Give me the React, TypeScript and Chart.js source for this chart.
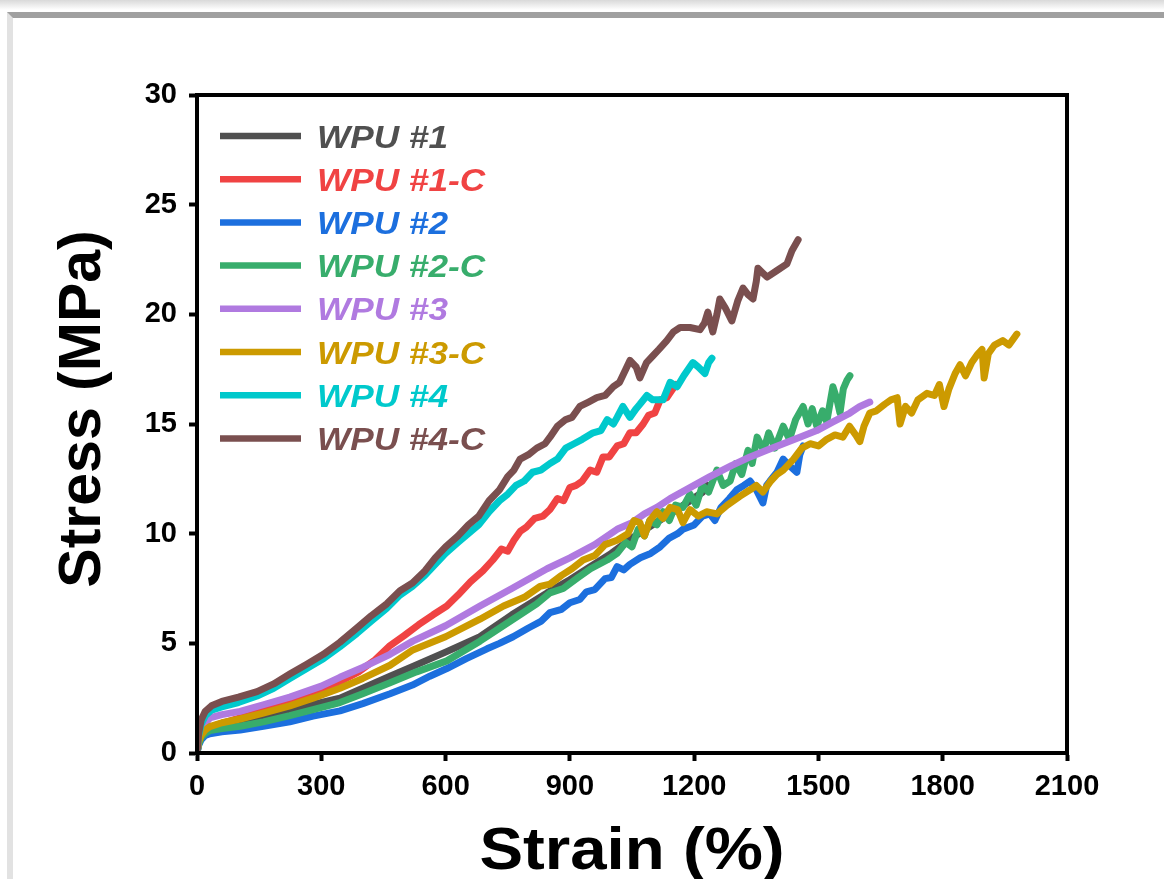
import React, { useEffect, useRef } from "react";
import { Chart, registerables } from "chart.js";

Chart.register(...registerables);

// Strain (%) , Stress (MPa) pairs
const wpu1: [number, number][] = [
  [0, 0], [4, 0.45], [10, 0.75], [20, 0.95], [31, 1.08], [60, 1.2], [104, 1.35], [160, 1.6],
  [224, 1.95], [280, 2.22], [345, 2.5], [400, 2.95], [466, 3.5], [521, 3.95], [600, 4.6],
  [683, 5.3], [760, 6.3], [845, 7.3], [900, 7.9], [950, 8.5], [1000, 9.1], [1050, 9.8],
  [1100, 10.4], [1150, 11.0], [1190, 11.5], [1221, 11.9], [1232, 12.2],
];

const wpu1c: [number, number][] = [
  [0, 0], [4, 0.5], [10, 0.85], [20, 1.05], [35, 1.2], [60, 1.35], [104, 1.6], [150, 1.85],
  [190, 2.1], [224, 2.35], [265, 2.65], [305, 2.95], [345, 3.25], [390, 3.7], [430, 4.25],
  [466, 4.9], [500, 5.35], [535, 5.85], [570, 6.3], [603, 6.7], [630, 7.2], [660, 7.8],
  [690, 8.3], [714, 8.8], [735, 9.3], [750, 9.2], [765, 9.7], [780, 10.1], [795, 10.3],
  [815, 10.7], [835, 10.8], [852, 11.1], [870, 11.6], [885, 11.5], [900, 12.1], [915, 12.2],
  [930, 12.4], [949, 12.9], [965, 12.8], [980, 13.5], [995, 13.5], [1014, 14.0], [1030, 14.1],
  [1045, 14.6], [1060, 14.6], [1077, 15.0], [1090, 15.4], [1105, 15.5], [1118, 16.1],
  [1134, 16.2], [1145, 16.5], [1156, 16.8],
];

const wpu2: [number, number][] = [
  [0, 0], [4, 0.35], [10, 0.6], [20, 0.8], [31, 0.88], [60, 0.97], [104, 1.05], [160, 1.22],
  [224, 1.42], [280, 1.68], [345, 1.92], [400, 2.25], [466, 2.7], [520, 3.1], [562, 3.5],
  [603, 3.85], [650, 4.3], [700, 4.75], [730, 5.0], [763, 5.3], [800, 5.7], [830, 6.0],
  [852, 6.4], [880, 6.55], [900, 6.85], [924, 7.0], [940, 7.35], [960, 7.45], [985, 7.95],
  [1000, 8.0], [1014, 8.5], [1030, 8.35], [1045, 8.6], [1070, 8.9], [1095, 9.1], [1118, 9.4],
  [1140, 9.8], [1160, 10.0], [1173, 10.2], [1200, 10.4], [1220, 10.8], [1238, 10.9],
  [1250, 10.6], [1265, 11.2], [1285, 11.6], [1303, 12.0], [1320, 12.2], [1335, 12.4],
  [1350, 12.0], [1366, 11.4], [1375, 12.2], [1383, 12.4], [1400, 12.8], [1415, 13.4],
  [1430, 13.1], [1448, 12.8], [1455, 13.6], [1463, 14.0],
];

const wpu2c: [number, number][] = [
  [0, 0], [4, 0.4], [10, 0.7], [20, 0.9], [31, 1.02], [60, 1.12], [104, 1.22], [160, 1.42],
  [224, 1.7], [280, 1.98], [345, 2.3], [400, 2.7], [466, 3.2], [530, 3.7], [603, 4.2],
  [683, 5.1], [763, 6.1], [820, 6.8], [852, 7.3], [884, 7.5], [920, 8.0], [950, 8.4],
  [990, 8.8], [1014, 9.1], [1035, 9.6], [1050, 9.4], [1065, 10.2], [1080, 9.9], [1093, 10.6],
  [1110, 10.4], [1125, 11.0], [1140, 10.6], [1155, 11.3], [1173, 11.2], [1190, 11.8],
  [1205, 11.3], [1220, 12.2], [1235, 11.9], [1255, 12.9], [1270, 12.2], [1287, 12.4],
  [1300, 13.2], [1315, 12.7], [1330, 13.8], [1340, 13.2], [1352, 14.4], [1368, 13.8],
  [1380, 14.6], [1395, 13.9], [1415, 14.9], [1430, 14.3], [1445, 15.2], [1463, 15.8],
  [1475, 15.0], [1485, 15.7], [1496, 14.9], [1510, 15.6], [1520, 15.1], [1535, 16.7],
  [1545, 16.1], [1552, 15.5], [1560, 16.6], [1569, 17.0], [1576, 17.2],
];

const wpu3: [number, number][] = [
  [0, 0], [4, 0.6], [10, 1.0], [20, 1.35], [31, 1.6], [60, 1.75], [104, 1.9], [160, 2.2],
  [224, 2.55], [300, 3.05], [345, 3.45], [400, 3.9], [466, 4.5], [521, 5.1], [600, 5.8],
  [683, 6.7], [760, 7.5], [845, 8.4], [900, 8.9], [960, 9.5], [1014, 10.2], [1050, 10.5],
  [1080, 10.9], [1110, 11.2], [1142, 11.6], [1190, 12.1], [1238, 12.6], [1290, 13.1],
  [1335, 13.5], [1375, 13.8], [1415, 14.1], [1455, 14.4], [1496, 14.7], [1535, 15.1],
  [1576, 15.5], [1600, 15.8], [1624, 16.0],
];

const wpu3c: [number, number][] = [
  [0, 0], [4, 0.5], [10, 0.8], [20, 1.05], [31, 1.2], [60, 1.38], [104, 1.55], [160, 1.82],
  [224, 2.15], [280, 2.5], [345, 2.95], [400, 3.4], [466, 4.0], [521, 4.7], [600, 5.3],
  [683, 6.1], [740, 6.7], [790, 7.1], [828, 7.6], [852, 7.7], [880, 8.1], [905, 8.4],
  [932, 8.8], [960, 9.0], [985, 9.5], [1014, 9.7], [1040, 10.0], [1055, 10.6], [1069, 10.5],
  [1080, 9.9], [1093, 10.6], [1110, 11.0], [1125, 10.7], [1142, 11.2], [1160, 11.1],
  [1173, 10.5], [1190, 11.1], [1210, 10.8], [1230, 11.0], [1255, 10.9], [1280, 11.3],
  [1310, 11.7], [1335, 12.0], [1350, 12.2], [1366, 11.9], [1385, 12.4], [1400, 12.7],
  [1415, 12.9], [1440, 13.4], [1460, 13.9], [1480, 14.1], [1500, 14.0], [1520, 14.3],
  [1540, 14.5], [1559, 14.4], [1575, 14.9], [1590, 14.5], [1600, 14.2], [1610, 14.9],
  [1624, 15.5], [1640, 15.6], [1660, 15.9], [1675, 16.1], [1690, 16.2], [1697, 15.0],
  [1710, 15.8], [1725, 15.5], [1740, 16.1], [1762, 16.4], [1780, 16.3], [1792, 16.8],
  [1803, 15.8], [1815, 16.6], [1830, 17.3], [1842, 17.7], [1855, 17.2], [1870, 17.8],
  [1885, 18.2], [1895, 18.4], [1900, 17.1], [1910, 18.2], [1925, 18.6], [1945, 18.8],
  [1960, 18.6], [1979, 19.1],
];

const wpu4: [number, number][] = [
  [0, 0], [4, 0.8], [10, 1.3], [20, 1.7], [35, 1.95], [60, 2.1], [100, 2.3], [145, 2.6],
  [185, 2.95], [224, 3.4], [265, 3.85], [305, 4.3], [345, 4.85], [386, 5.45], [420, 6.0],
  [458, 6.6], [490, 7.2], [520, 7.6], [550, 8.1], [575, 8.6], [600, 9.1], [630, 9.6],
  [655, 10.0], [680, 10.4], [705, 11.0], [730, 11.5], [750, 11.8], [770, 12.2], [790, 12.4],
  [810, 12.8], [830, 12.9], [852, 13.2], [870, 13.4], [890, 13.9], [910, 14.1], [930, 14.3],
  [956, 14.6], [975, 14.7], [990, 15.2], [1005, 15.0], [1014, 15.3], [1028, 15.8],
  [1045, 15.3], [1060, 15.7], [1069, 15.9], [1086, 16.3], [1100, 16.1], [1125, 16.1],
  [1142, 16.9], [1159, 16.7], [1175, 17.2], [1197, 17.8], [1210, 17.6], [1226, 17.3],
  [1235, 17.8], [1243, 18.0],
];

const wpu4c: [number, number][] = [
  [0, 0], [4, 0.9], [10, 1.5], [20, 1.9], [35, 2.15], [60, 2.35], [100, 2.55], [145, 2.8],
  [185, 3.15], [224, 3.6], [265, 4.05], [305, 4.5], [345, 5.05], [386, 5.7], [420, 6.25],
  [458, 6.8], [490, 7.4], [520, 7.75], [550, 8.3], [575, 8.9], [600, 9.4], [630, 9.9],
  [655, 10.4], [680, 10.8], [705, 11.5], [730, 12.0], [750, 12.6], [765, 12.9], [780, 13.4],
  [800, 13.6], [820, 13.9], [840, 14.1], [852, 14.4], [870, 14.9], [890, 15.2], [905, 15.3],
  [924, 15.8], [945, 16.0], [965, 16.2], [985, 16.3], [1005, 16.7], [1020, 16.9],
  [1035, 17.5], [1045, 17.9], [1060, 17.6], [1069, 17.1], [1085, 17.8], [1100, 18.1],
  [1115, 18.4], [1134, 18.8], [1150, 19.2], [1166, 19.4], [1190, 19.4], [1214, 19.3],
  [1225, 19.6], [1233, 20.1], [1245, 19.2], [1255, 20.0], [1262, 20.7], [1275, 20.3],
  [1291, 19.7], [1305, 20.6], [1318, 21.2], [1330, 20.9], [1342, 20.7], [1350, 21.5],
  [1354, 22.1], [1365, 21.9], [1376, 21.7], [1400, 22.0], [1424, 22.3], [1436, 22.9],
  [1451, 23.4],
];

const SERIES_LABELS = ["WPU #1", "WPU #1-C", "WPU #2", "WPU #2-C", "WPU #3", "WPU #3-C", "WPU #4", "WPU #4-C"];
const SERIES_COLORS = ["#505050", "#f04343", "#1c6fde", "#38ad6c", "#b07ae0", "#cc9a00", "#00c9cc", "#7a4f4f"];
const SERIES_DATA = [wpu1, wpu1c, wpu2, wpu2c, wpu3, wpu3c, wpu4, wpu4c];

const X_MIN = 0;
const X_MAX = 2100;
const X_STEP = 300;
const Y_MIN = 0;
const Y_MAX = 30;
const Y_STEP = 5;
const X_TITLE = "Strain (%)";
const Y_TITLE = "Stress (MPa)";

const FONT = '"Liberation Sans", Arial, sans-serif';

const decorPlugin = {
  id: "decor",
  afterDraw(chart: any) {
    const ctx = chart.ctx as CanvasRenderingContext2D;
    const a = chart.chartArea;
    ctx.save();
    // frame box
    ctx.strokeStyle = "#000";
    ctx.lineWidth = 4;
    ctx.strokeRect(a.left, a.top, a.right - a.left, a.bottom - a.top);

    // legend
    SERIES_LABELS.forEach((label, i) => {
      const y = a.top + 41 + i * 43.2;
      const color = SERIES_COLORS[i];
      ctx.strokeStyle = color;
      ctx.lineWidth = 6.5;
      ctx.lineCap = "butt";
      ctx.beginPath();
      ctx.moveTo(a.left + 23, y);
      ctx.lineTo(a.left + 104, y);
      ctx.stroke();
      ctx.save();
      ctx.translate(a.left + 120, y + 11.5);
      ctx.scale(1.1, 1);
      ctx.font = `italic bold 32px ${FONT}`;
      ctx.fillStyle = color;
      ctx.textBaseline = "alphabetic";
      ctx.textAlign = "left";
      ctx.fillText(label, 0, 0);
      ctx.restore();
    });

    // axis titles
    ctx.fillStyle = "#000";
    ctx.save();
    ctx.translate((a.left + a.right) / 2, a.bottom + 116);
    ctx.scale(1.09, 1);
    ctx.font = `bold 60px ${FONT}`;
    ctx.textAlign = "center";
    ctx.textBaseline = "alphabetic";
    ctx.fillText(X_TITLE, 0, 0);
    ctx.restore();

    ctx.save();
    ctx.translate(a.left - 97, (a.top + a.bottom) / 2 - 15);
    ctx.rotate(-Math.PI / 2);
    ctx.font = `bold 59px ${FONT}`;
    ctx.textAlign = "center";
    ctx.textBaseline = "alphabetic";
    ctx.fillText(Y_TITLE, 0, 0);
    ctx.restore();

    ctx.restore();
  },
};

export default function App() {
  const ref = useRef<HTMLCanvasElement | null>(null);

  useEffect(() => {
    if (!ref.current) return;
    const chart = new Chart(ref.current, {
      type: "line",
      data: {
        datasets: SERIES_DATA.map((d, i) => ({
          label: SERIES_LABELS[i],
          data: d.map(([x, y]) => ({ x, y })),
          borderColor: SERIES_COLORS[i],
          backgroundColor: SERIES_COLORS[i],
          borderWidth: 7,
          pointRadius: 0,
          tension: 0,
          fill: false,
          borderJoinStyle: "round" as const,
          borderCapStyle: "round" as const,
          order: SERIES_DATA.length - 1 - i,
        })),
      },
      options: {
        animation: false,
        responsive: false,
        devicePixelRatio: 1,
        layout: { padding: { left: 0, top: 95, right: 97, bottom: 0 } },
        plugins: { legend: { display: false }, tooltip: { enabled: false } },
        scales: {
          x: {
            type: "linear",
            min: X_MIN,
            max: X_MAX,
            ticks: {
              stepSize: X_STEP,
              color: "#000",
              padding: 9,
              maxRotation: 0,
              font: { family: FONT, size: 29, weight: "bold" },
              callback: (v: any) => String(v),
            },
            grid: { drawOnChartArea: false, tickLength: 8, tickWidth: 4, tickColor: "#000" },
            border: { display: true, width: 4, color: "#000" },
            afterFit: (s: any) => {
              s.height = 126;
              s.paddingLeft = 0;
              s.paddingRight = 0;
            },
          },
          y: {
            type: "linear",
            min: Y_MIN,
            max: Y_MAX,
            ticks: {
              stepSize: Y_STEP,
              color: "#000",
              padding: 12,
              font: { family: FONT, size: 29, weight: "bold" },
              callback: (v: any) => String(v),
            },
            grid: { drawOnChartArea: false, tickLength: 8, tickWidth: 4, tickColor: "#000" },
            border: { display: true, width: 4, color: "#000" },
            afterFit: (s: any) => {
              s.width = 197;
              s.paddingTop = 0;
              s.paddingBottom = 0;
            },
          },
        },
      } as any,
      plugins: [decorPlugin],
    });
    return () => chart.destroy();
  }, []);

  return (
    <div
      style={{
        position: "fixed",
        left: 0,
        top: 0,
        width: 1164,
        height: 879,
        background: "#fff",
        overflow: "hidden",
      }}
    >
      <div
        style={{
          position: "absolute",
          left: 0,
          top: 0,
          width: 1164,
          height: 10,
          background: "linear-gradient(#d9d9d9, #ffffff)",
        }}
      />
      <div
        style={{
          position: "absolute",
          left: 7,
          top: 12,
          right: -10,
          bottom: -10,
          borderTop: "6px solid #a0a0a0",
          borderLeft: "6px solid #e2e2e2",
        }}
      />
      <canvas
        ref={ref}
        width={1164}
        height={879}
        style={{ position: "absolute", left: 0, top: 0 }}
      />
    </div>
  );
}
